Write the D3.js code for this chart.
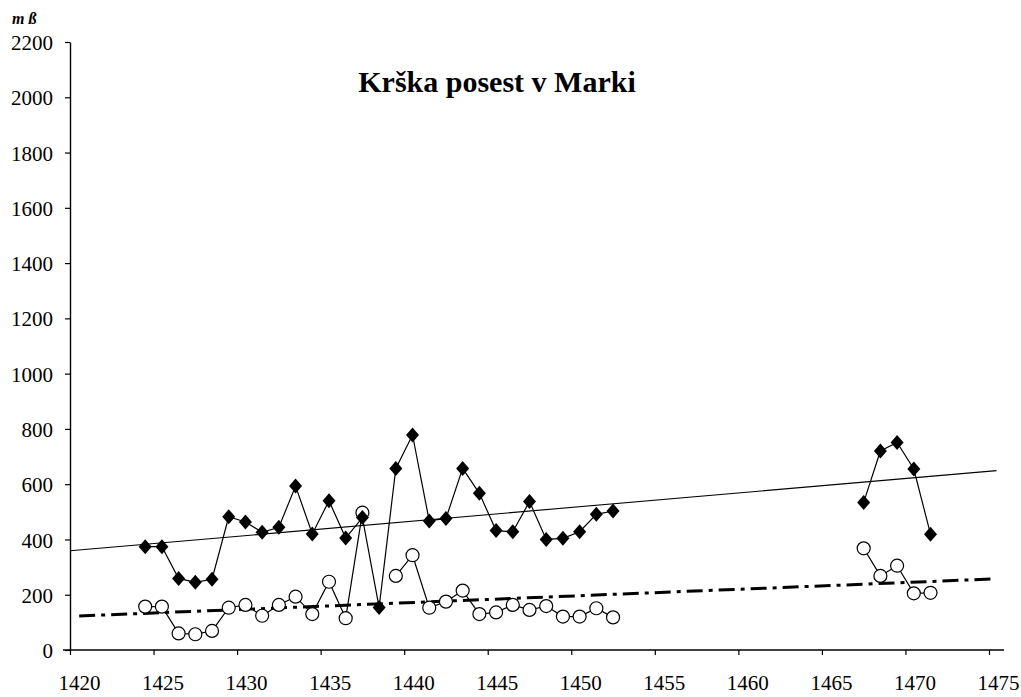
<!DOCTYPE html>
<html>
<head>
<meta charset="utf-8">
<script src="https://cdn.jsdelivr.net/npm/d3@7"></script>
<style>
  html, body { margin: 0; padding: 0; background: #fff; }
  svg { display: block; }
</style>
</head>
<body>
<svg id="chart" width="1021" height="697"></svg>
<script>
// Years of observation (points are drawn at mid-year)
const years = [1424, 1425, 1426, 1427, 1428, 1429, 1430, 1431, 1432, 1433, 1434, 1435, 1436,
               1437, 1438, 1439, 1440, 1441, 1442, 1443, 1444, 1445, 1446, 1447, 1448, 1449,
               1450, 1451, 1452, 1467, 1468, 1469, 1470, 1471];
// Series drawn with filled diamonds
const diamondValues = [374, 374, 259, 245, 256, 482, 463, 426, 444, 593, 420, 540, 405,
                       479, 154, 657, 778, 467, 476, 657, 567, 432, 428, 537, 400, 404,
                       428, 491, 503, 534, 720, 751, 655, 419];
// Series drawn with open circles (null = no value)
const circleValues = [157, 157, 60, 57, 69, 153, 163, 124, 163, 193, 130, 247, 115,
                      497, null, 268, 343, 153, 175, 215, 130, 136, 163, 145, 159, 121,
                      121, 151, 118, 368, 268, 305, 205, 207];
// Linear trends: [year, value] end points
const trendSolidYears = [1420, 1475.45];
const trendSolidValues = [359, 649];
const trendDashYears = [1420.55, 1475.2];
const trendDashValues = [123, 257];

const xTicks = [1420, 1425, 1430, 1435, 1440, 1445, 1450, 1455, 1460, 1465, 1470, 1475];
const yTicks = [0, 200, 400, 600, 800, 1000, 1200, 1400, 1600, 1800, 2000, 2200];
const titleText = "Krška posest v Marki";
const unitText = "m ß";

const serif = "'Liberation Serif', 'Times New Roman', serif";
const svg = d3.select("#chart");

const x = d3.scaleLinear().domain([1420, 1420 + 934 / 16.709]).range([70, 1004]);
const y = d3.scaleLinear().domain([0, 2200]).range([650, 42]);

// Axes
const xAxis = svg.append("g")
  .attr("transform", `translate(0,${y(0)})`)
  .call(d3.axisBottom(x).tickValues(xTicks).tickFormat(d3.format("d")).tickSize(5).tickSizeOuter(0));
const yAxis = svg.append("g")
  .attr("transform", `translate(${x(1420)},0)`)
  .call(d3.axisLeft(y).tickValues(yTicks).tickFormat(d3.format("d")).tickSize(5).tickSizeOuter(0).tickPadding(12));

[xAxis, yAxis].forEach(g => {
  g.attr("font-family", null).attr("font-size", null);
  g.selectAll("path.domain").attr("stroke", "#000").attr("stroke-width", 1.4);
  g.selectAll(".tick line").attr("stroke", "#000").attr("stroke-width", 1.2);
  g.selectAll(".tick text")
    .style("font-family", serif)
    .style("font-size", "21px")
    .attr("fill", "#000");
});
// Horizontal axis runs slightly past the vertical one on the left
xAxis.select("path.domain").attr("d", `M${x.range()[0] - 7},0H${x.range()[1]}`);
xAxis.selectAll(".tick text").attr("x", 9).attr("y", 40).attr("dy", 0);
yAxis.selectAll(".tick text").attr("dy", "0.36em");

// Unit label and title
svg.append("text")
  .attr("x", 12).attr("y", 24)
  .style("font-family", serif).style("font-size", "16px")
  .style("font-weight", "bold").style("font-style", "italic")
  .text(unitText);
svg.append("text")
  .attr("x", 497).attr("y", 92)
  .attr("text-anchor", "middle")
  .style("font-family", serif).style("font-size", "30px").style("font-weight", "bold")
  .text(titleText);

// Trend lines
const trendLine = d3.line().x(d => x(d[0])).y(d => y(d[1]));
svg.append("path")
  .datum(trendSolidYears.map((yr, i) => [yr, trendSolidValues[i]]))
  .attr("d", trendLine)
  .attr("fill", "none").attr("stroke", "#000").attr("stroke-width", 1.1);
svg.append("path")
  .datum(trendDashYears.map((yr, i) => [yr, trendDashValues[i]]))
  .attr("d", trendLine)
  .attr("fill", "none").attr("stroke", "#000").attr("stroke-width", 3)
  .attr("stroke-dasharray", "16,6,4,6");

// Split a series into runs of consecutive years with values
function segments(values) {
  const out = [];
  let cur = [];
  years.forEach((yr, i) => {
    const v = values[i];
    const prev = cur.length ? cur[cur.length - 1] : null;
    if (v == null || (prev && yr - prev[0] !== 1)) {
      if (cur.length) out.push(cur);
      cur = [];
    }
    if (v != null) cur.push([yr, v]);
  });
  if (cur.length) out.push(cur);
  return out;
}

const seriesLine = d3.line().x(d => x(d[0] + 0.5)).y(d => y(d[1]));

[diamondValues, circleValues].forEach(vals => {
  svg.append("g").selectAll("path")
    .data(segments(vals))
    .join("path")
    .attr("d", seriesLine)
    .attr("fill", "none").attr("stroke", "#000").attr("stroke-width", 1.2);
});

// Circle markers
svg.append("g").selectAll("circle")
  .data(years.map((yr, i) => [yr, circleValues[i]]).filter(d => d[1] != null))
  .join("circle")
  .attr("cx", d => x(d[0] + 0.5)).attr("cy", d => y(d[1]))
  .attr("r", 6.5)
  .attr("fill", "#fff").attr("stroke", "#000").attr("stroke-width", 1.2);

// Diamond markers
svg.append("g").selectAll("path")
  .data(years.map((yr, i) => [yr, diamondValues[i]]))
  .join("path")
  .attr("transform", d => `translate(${x(d[0] + 0.5)},${y(d[1])})`)
  .attr("d", "M0,-7.5L6.5,0L0,7.5L-6.5,0Z")
  .attr("fill", "#000");
</script>
</body>
</html>
